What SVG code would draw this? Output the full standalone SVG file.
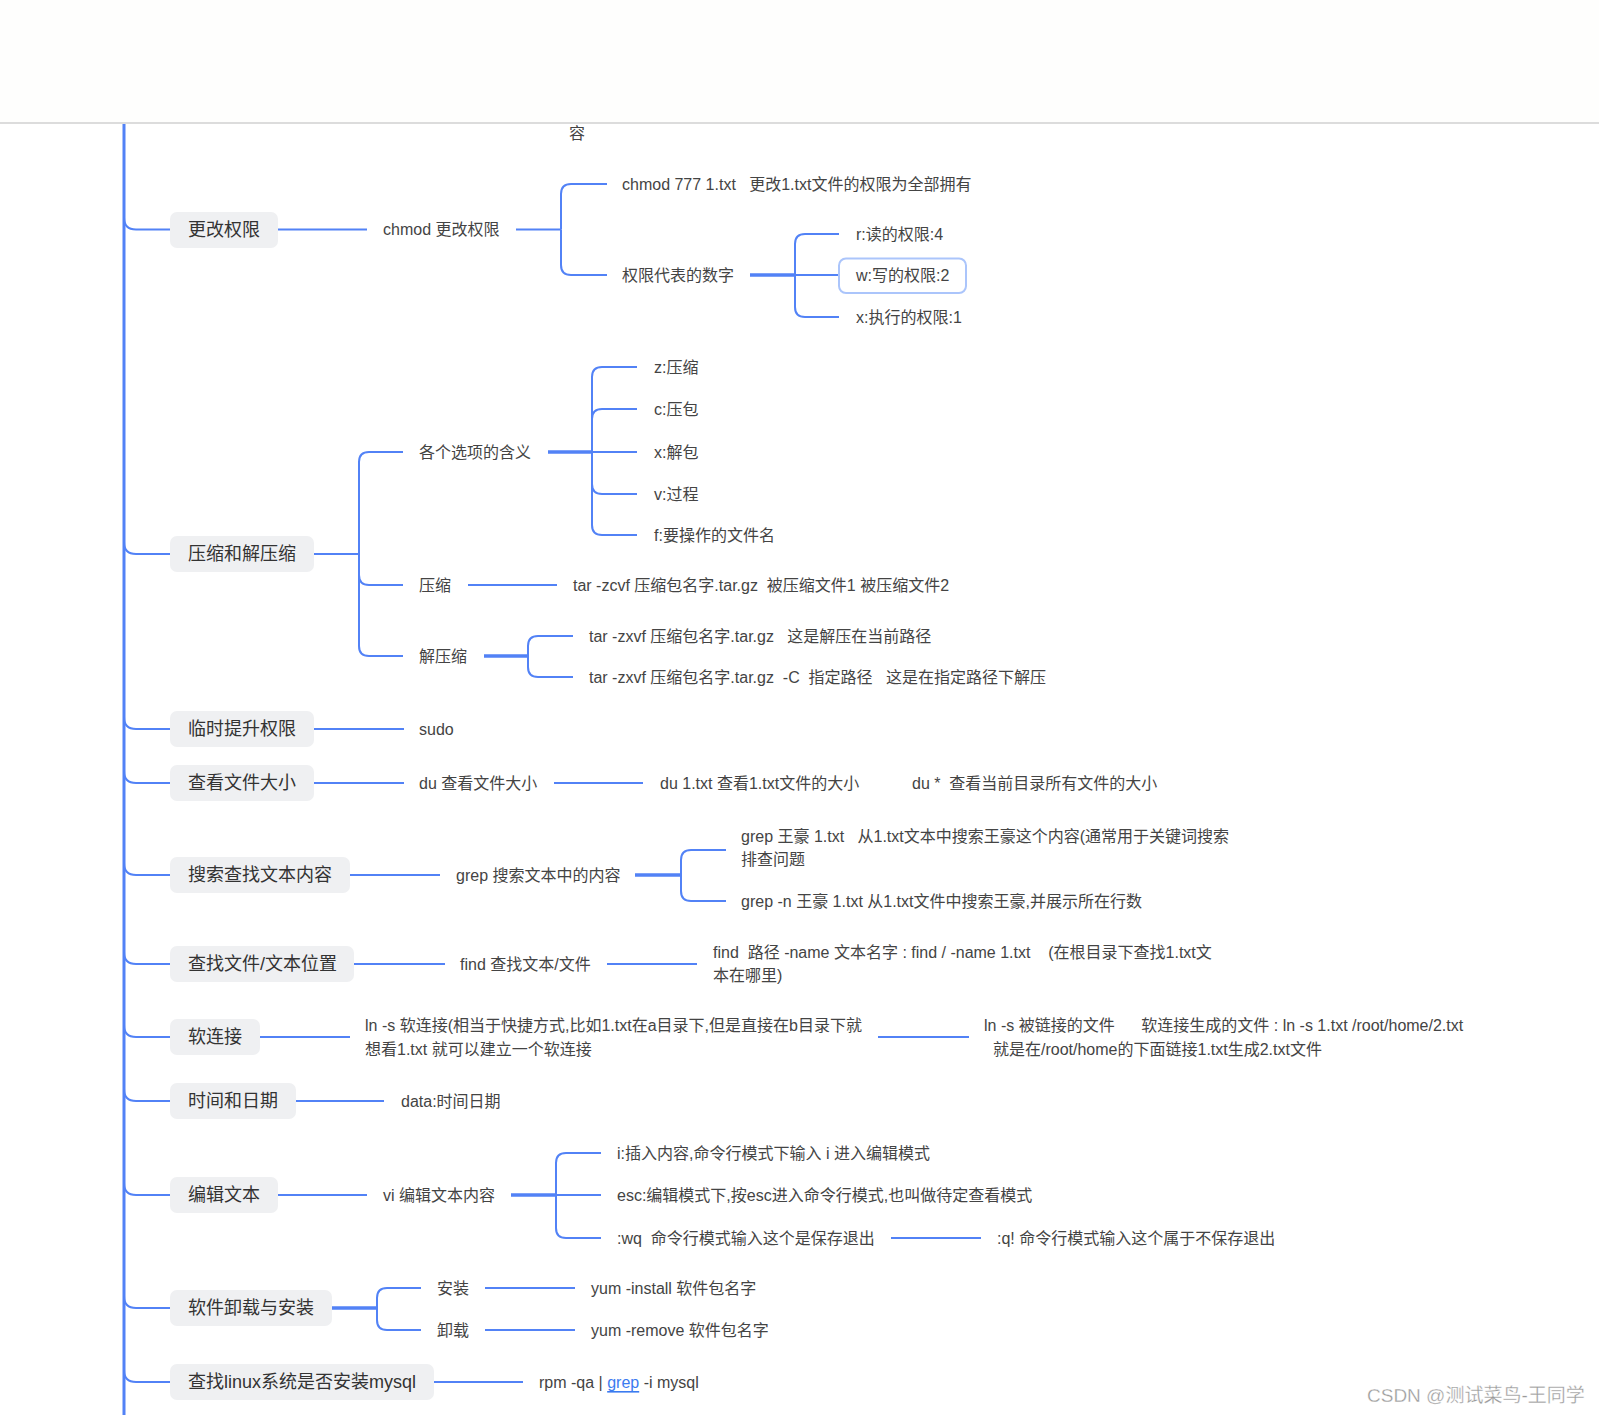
<svg xmlns="http://www.w3.org/2000/svg" width="1599" height="1415" viewBox="0 0 1599 1415">
<style>
text{font-family:"Liberation Sans","Noto Sans CJK SC",sans-serif;dominant-baseline:central;white-space:pre}
.r{font-size:18px;fill:#333}
.t{font-size:16px;fill:#444}
.box{fill:#eff0f2}
.c{fill:none;stroke:#5282f6;stroke-width:2}
.k{fill:none;stroke:#5282f6;stroke-width:3.5}
.trunk{fill:none;stroke:#5282f6;stroke-width:3}
</style>
<rect x="0" y="0" width="1599" height="123" fill="#fefefd"/>
<rect x="0" y="123" width="1599" height="1292" fill="#ffffff"/>
<line x1="0" y1="123" x2="1599" y2="123" stroke="#dcdcdc" stroke-width="2"/>
<text class="t" x="569" y="133">容</text>

<g id="connectors">
<line class="trunk" x1="124" y1="124" x2="124" y2="1415"/>
<path class="c" d="M124,217.5 Q124,229.5 136,229.5 H170"/>
<path class="c" d="M124,542 Q124,554 136,554 H170"/>
<path class="c" d="M124,717 Q124,729 136,729 H170"/>
<path class="c" d="M124,771 Q124,783 136,783 H170"/>
<path class="c" d="M124,863 Q124,875 136,875 H170"/>
<path class="c" d="M124,952 Q124,964 136,964 H170"/>
<path class="c" d="M124,1025 Q124,1037 136,1037 H170"/>
<path class="c" d="M124,1089 Q124,1101 136,1101 H170"/>
<path class="c" d="M124,1183 Q124,1195 136,1195 H170"/>
<path class="c" d="M124,1296 Q124,1308 136,1308 H170"/>
<path class="c" d="M124,1370 Q124,1382 136,1382 H170"/>

<!-- row 1 -->
<path class="c" d="M278,229.5 H367"/>
<path class="c" d="M516,229.5 H561"/>
<path class="c" d="M561,229.5 V194 Q561,184 571,184 H607"/>
<path class="c" d="M561,229.5 V265 Q561,275 571,275 H607"/>
<path class="k" d="M750,275 H795"/>
<path class="c" d="M795,275 V244 Q795,234 805,234 H839"/>
<path class="c" d="M795,275 H839"/>
<path class="c" d="M795,275 V307 Q795,317 805,317 H839"/>

<!-- row 2 -->
<path class="c" d="M314,554 H359"/>
<path class="c" d="M359,554 V462 Q359,452 369,452 H403"/>
<path class="c" d="M359,554 V575 Q359,585 369,585 H403"/>
<path class="c" d="M359,554 V646 Q359,656 369,656 H403"/>
<path class="k" d="M548,452 H592"/>
<path class="c" d="M592,452 V377 Q592,367 602,367 H637"/>
<path class="c" d="M592,452 V419 Q592,409 602,409 H637"/>
<path class="c" d="M592,452 H637"/>
<path class="c" d="M592,452 V484 Q592,494 602,494 H637"/>
<path class="c" d="M592,452 V525 Q592,535 602,535 H637"/>
<path class="c" d="M468,585 H557"/>
<path class="k" d="M484,656 H528"/>
<path class="c" d="M528,656 V646 Q528,636 538,636 H573"/>
<path class="c" d="M528,656 V667 Q528,677 538,677 H573"/>

<!-- row 3,4 -->
<path class="c" d="M314,729 H404"/>
<path class="c" d="M314,783 H404"/>
<path class="c" d="M554,783 H643"/>

<!-- row 5 -->
<path class="c" d="M350,875 H440"/>
<path class="k" d="M635,875 H681"/>
<path class="c" d="M681,875 V860 Q681,850 691,850 H726"/>
<path class="c" d="M681,875 V891 Q681,901 691,901 H726"/>

<!-- row 6 -->
<path class="c" d="M354,964 H445"/>
<path class="c" d="M607,964 H697"/>

<!-- row 7,8 -->
<path class="c" d="M260,1037 H350"/>
<path class="c" d="M878,1037 H969"/>
<path class="c" d="M296,1101 H384"/>

<!-- row 9 -->
<path class="c" d="M278,1195 H367"/>
<path class="k" d="M511,1195 H556"/>
<path class="c" d="M556,1195 V1163 Q556,1153 566,1153 H601"/>
<path class="c" d="M556,1195 H601"/>
<path class="c" d="M556,1195 V1228 Q556,1238 566,1238 H601"/>
<path class="c" d="M891,1238 H981"/>

<!-- row 10 -->
<path class="k" d="M332,1308 H377"/>
<path class="c" d="M377,1308 V1298 Q377,1288 387,1288 H421"/>
<path class="c" d="M377,1308 V1320 Q377,1330 387,1330 H421"/>
<path class="c" d="M485,1288 H575"/>
<path class="c" d="M485,1330 H575"/>

<!-- row 11 -->
<path class="c" d="M434,1382 H523"/>
</g>

<!-- row 1 -->
<g id="n-gengai"><rect class="box" x="170" y="212" width="108" height="36" rx="7"/><text class="r" x="188" y="230">更改权限</text></g>
<g id="n-chmod"><text class="t" x="383" y="229.5">chmod 更改权限</text></g>
<g id="n-chmod777"><text class="t" x="622" y="184">chmod 777 1.txt   更改1.txt文件的权限为全部拥有</text></g>
<g id="n-quanxian"><text class="t" x="622" y="275">权限代表的数字</text></g>
<g id="n-r"><text class="t" x="856" y="234">r:读的权限:4</text></g>
<g id="n-w"><rect x="839" y="258.5" width="127" height="34.5" rx="7" fill="#fff" stroke="#abc5fb" stroke-width="2"/><text class="t" x="856" y="275">w:写的权限:2</text></g>
<g id="n-x"><text class="t" x="856" y="317">x:执行的权限:1</text></g>

<!-- row 2 -->
<g id="n-yasuo-root"><rect class="box" x="170" y="536" width="144" height="36" rx="7"/><text class="r" x="188" y="554">压缩和解压缩</text></g>
<g id="n-options"><text class="t" x="419" y="452">各个选项的含义</text></g>
<g id="n-z"><text class="t" x="654" y="367">z:压缩</text></g>
<g id="n-c"><text class="t" x="654" y="409">c:压包</text></g>
<g id="n-xj"><text class="t" x="654" y="452">x:解包</text></g>
<g id="n-v"><text class="t" x="654" y="494">v:过程</text></g>
<g id="n-f"><text class="t" x="654" y="535">f:要操作的文件名</text></g>
<g id="n-yasuo"><text class="t" x="419" y="585">压缩</text></g>
<g id="n-tarc"><text class="t" x="573" y="585">tar -zcvf 压缩包名字.tar.gz  被压缩文件1 被压缩文件2</text></g>
<g id="n-jieyasuo"><text class="t" x="419" y="656">解压缩</text></g>
<g id="n-tarx1"><text class="t" x="589" y="636">tar -zxvf 压缩包名字.tar.gz   这是解压在当前路径</text></g>
<g id="n-tarx2"><text class="t" x="589" y="677">tar -zxvf 压缩包名字.tar.gz  -C  指定路径   这是在指定路径下解压</text></g>

<!-- row 3 -->
<g id="n-sudo-root"><rect class="box" x="170" y="711" width="144" height="36" rx="7"/><text class="r" x="188" y="729">临时提升权限</text></g>
<g id="n-sudo"><text class="t" x="419" y="729">sudo</text></g>

<!-- row 4 -->
<g id="n-du-root"><rect class="box" x="170" y="765" width="144" height="36" rx="7"/><text class="r" x="188" y="783">查看文件大小</text></g>
<g id="n-du"><text class="t" x="419" y="783">du 查看文件大小</text></g>
<g id="n-du1"><text class="t" x="660" y="783">du 1.txt 查看1.txt文件的大小<tspan x="912">du *  查看当前目录所有文件的大小</tspan></text></g>

<!-- row 5 -->
<g id="n-grep-root"><rect class="box" x="170" y="857" width="180" height="36" rx="7"/><text class="r" x="188" y="875">搜索查找文本内容</text></g>
<g id="n-grep"><text class="t" x="456" y="875">grep 搜索文本中的内容</text></g>
<g id="n-grep1"><text class="t" x="741" y="836">grep 王豪 1.txt   从1.txt文本中搜索王豪这个内容(通常用于关键词搜索<tspan x="741" y="859">排查问题</tspan></text></g>
<g id="n-grep2"><text class="t" x="741" y="901">grep -n 王豪 1.txt 从1.txt文件中搜索王豪,并展示所在行数</text></g>

<!-- row 6 -->
<g id="n-find-root"><rect class="box" x="170" y="946" width="184" height="36" rx="7"/><text class="r" x="188" y="964">查找文件/文本位置</text></g>
<g id="n-find"><text class="t" x="460" y="964">find 查找文本/文件</text></g>
<g id="n-find1"><text class="t" x="713" y="952">find  路径 -name 文本名字 : find / -name 1.txt    (在根目录下查找1.txt文<tspan x="713" y="975">本在哪里)</tspan></text></g>

<!-- row 7 -->
<g id="n-ln-root"><rect class="box" x="170" y="1019" width="90" height="36" rx="7"/><text class="r" x="188" y="1037">软连接</text></g>
<g id="n-ln"><text class="t" x="365" y="1025">ln -s 软连接(相当于快捷方式,比如1.txt在a目录下,但是直接在b目录下就<tspan x="365" y="1049">想看1.txt 就可以建立一个软连接</tspan></text></g>
<g id="n-ln1"><text class="t" x="984" y="1025">ln -s 被链接的文件      软连接生成的文件 : ln -s 1.txt /root/home/2.txt<tspan x="993" y="1049">就是在/root/home的下面链接1.txt生成2.txt文件</tspan></text></g>

<!-- row 8 -->
<g id="n-date-root"><rect class="box" x="170" y="1083" width="126" height="36" rx="7"/><text class="r" x="188" y="1101">时间和日期</text></g>
<g id="n-date"><text class="t" x="401" y="1101">data:时间日期</text></g>

<!-- row 9 -->
<g id="n-vi-root"><rect class="box" x="170" y="1177" width="108" height="36" rx="7"/><text class="r" x="188" y="1195">编辑文本</text></g>
<g id="n-vi"><text class="t" x="383" y="1195">vi 编辑文本内容</text></g>
<g id="n-vi1"><text class="t" x="617" y="1153">i:插入内容,命令行模式下输入 i 进入编辑模式</text></g>
<g id="n-vi2"><text class="t" x="617" y="1195">esc:编辑模式下,按esc进入命令行模式,也叫做待定查看模式</text></g>
<g id="n-vi3"><text class="t" x="617" y="1238">:wq  命令行模式输入这个是保存退出</text></g>
<g id="n-vi4"><text class="t" x="997" y="1238">:q! 命令行模式输入这个属于不保存退出</text></g>

<!-- row 10 -->
<g id="n-yum-root"><rect class="box" x="170" y="1290" width="162" height="36" rx="7"/><text class="r" x="188" y="1308">软件卸载与安装</text></g>
<g id="n-install"><text class="t" x="437" y="1288">安装</text></g>
<g id="n-remove"><text class="t" x="437" y="1330">卸载</text></g>
<g id="n-yum1"><text class="t" x="591" y="1288">yum -install 软件包名字</text></g>
<g id="n-yum2"><text class="t" x="591" y="1330">yum -remove 软件包名字</text></g>

<!-- row 11 -->
<g id="n-mysql-root"><rect class="box" x="170" y="1364" width="264" height="36" rx="7"/><text class="r" x="188" y="1382">查找linux系统是否安装mysql</text></g>
<g id="n-rpm"><text class="t" x="539" y="1382">rpm -qa | <tspan fill="#3b7bf0" text-decoration="underline">grep</tspan> -i mysql</text></g>

<text x="1367" y="1395" font-size="19" fill="#9a9a9a" stroke="#ffffff" stroke-width="0.3">CSDN @测试菜鸟-王同学</text>
</svg>
